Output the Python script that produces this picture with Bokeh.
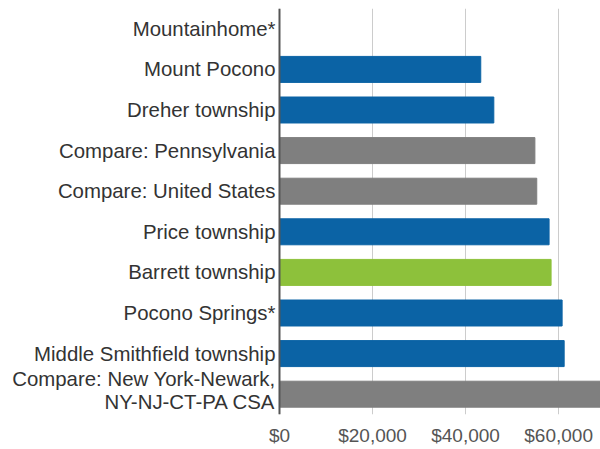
from bokeh.plotting import figure
from bokeh.models import ColumnDataSource, NumeralTickFormatter, FixedTicker, Range1d, Span
from bokeh.core.properties import value
from bokeh.embed import file_html
from bokeh.resources import INLINE

categories = ["Mountainhome*", "Mount Pocono", "Dreher township", "Compare: Pennsylvania",
              "Compare: United States", "Price township", "Barrett township",
              "Pocono Springs*", "Middle Smithfield township",
              "Compare: New York-Newark, NY-NJ-CT-PA CSA"]
labels = ["Mountainhome*", "Mount Pocono", "Dreher township", "Compare: Pennsylvania",
          "Compare: United States", "Price township", "Barrett township",
          "Pocono Springs*", "Middle Smithfield township",
          "Compare: New York-Newark,\nNY-NJ-CT-PA CSA"]
values = [float("nan"), 43260, 46070, 54900, 55300, 57950, 58380, 60750, 61190, 71000]
colors = ["#0b63a5", "#0b63a5", "#0b63a5", "#7f7f7f", "#7f7f7f", "#0b63a5", "#8dc13b",
          "#0b63a5", "#0b63a5", "#7f7f7f"]
x_ticks = [0, 20000, 40000, 60000]

label_dy = [0, 0, 0, 0, 0, 0, 0, 0, 0, -4]

src = ColumnDataSource(dict(cat=categories, val=values, color=colors, label=labels,
                            zero=[0] * len(categories), dy=label_dy))

p = figure(y_range=list(reversed(categories)), x_range=Range1d(-59970, 69000),
           output_backend="svg", toolbar_location=None,
           frame_width=600, frame_height=406,
           min_border_left=0, min_border_right=0, min_border_top=8, min_border_bottom=0)

p.hbar(y="cat", right="val", left=0, height=0.64, color="color", source=src)

p.text(x="zero", y="cat", text="label", source=src, x_offset=-4, y_offset="dy",
       text_align="right", text_baseline="middle",
       text_font=value("Liberation Sans"), text_font_size="20.4px", text_color="#333333",
       text_line_height=1.05)

p.add_layout(Span(location=0, dimension="height", line_color="#555555", line_width=2))

p.xaxis.ticker = FixedTicker(ticks=x_ticks)
p.xaxis.formatter = NumeralTickFormatter(format="$0,0")
p.xaxis.axis_line_color = None
p.xaxis.major_tick_line_color = None
p.xaxis.minor_tick_line_color = None
p.xaxis.major_tick_out = 0
p.xaxis.major_tick_in = 0
p.xaxis.major_label_text_font = "Liberation Sans"
p.xaxis.major_label_text_font_size = "19px"
p.xaxis.major_label_text_color = "#555555"
p.xaxis.major_label_standoff = 10

p.yaxis.visible = False
p.ygrid.grid_line_color = None
p.xgrid.grid_line_color = "#cccccc"
p.xgrid.grid_line_width = 1
p.outline_line_color = None
p.background_fill_color = "white"

open("out.html", "w").write(file_html(p, INLINE))
